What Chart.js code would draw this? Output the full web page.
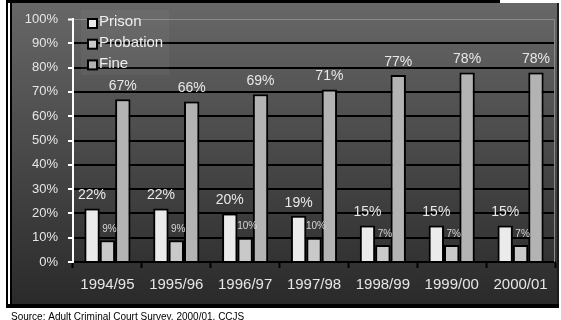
<!DOCTYPE html>
<html>
<head>
<meta charset="utf-8">
<script src="https://cdn.jsdelivr.net/npm/chart.js@4.4.0/dist/chart.umd.min.js"></script>
<style>
  html, body { margin: 0; padding: 0; background: #fff; }
  #wrap { position: relative; width: 561px; height: 320px; }
</style>
</head>
<body>
<div id="wrap"><canvas id="chart"></canvas></div>
<script>
const years = ['1994/95', '1995/96', '1996/97', '1997/98', '1998/99', '1999/00', '2000/01'];
const prison = [22, 22, 20, 19, 15, 15, 15];
const probation = [9, 9, 10, 10, 7, 7, 7];
const fine = [67, 66, 69, 71, 77, 78, 78];
const seriesNames = ['Prison', 'Probation', 'Fine'];
const sourceNote = 'Source: Adult Criminal Court Survey, 2000/01, CCJS';

const FONT = "'Liberation Sans', Arial, sans-serif";
Chart.defaults.font.family = FONT;

// slide frame + dark gradient panel behind the chart
const framePlugin = {
  id: 'frame',
  beforeDraw(chart) {
    const c = chart.ctx;
    c.save();
    c.fillStyle = '#fff';
    c.fillRect(0, 0, chart.width, chart.height);
    const g = c.createLinearGradient(0, 3, 0, 304);
    g.addColorStop(0, '#676767');
    g.addColorStop(1, '#2a2a2a');
    c.fillStyle = g;
    c.fillRect(10, 3, 549, 301);
    c.fillStyle = '#000';
    c.fillRect(6, 0, 2, 308);     // outer left line
    c.fillRect(6, 0, 494, 3);     // top line
    c.fillRect(10, 3, 2, 301);    // panel left border
    c.fillRect(6, 304, 553, 4);   // bottom line
    c.fillStyle = '#1c1c1c';
    c.fillRect(557, 3, 2, 301);
    c.fillStyle = '#000';
    c.font = '10px ' + FONT;
    c.textBaseline = 'alphabetic';
    c.fillText(sourceNote, 11, 320);
    c.restore();
  },
  beforeDatasetsDraw(chart) {
    const a = chart.chartArea;
    const c = chart.ctx;
    c.save();
    c.strokeStyle = '#8a8a8a';
    c.lineWidth = 1;
    c.beginPath();
    c.moveTo(a.right - 0.5, a.top);
    c.lineTo(a.right - 0.5, a.bottom);
    c.stroke();
    c.restore();
  }
};

// value labels above bars
const labelPlugin = {
  id: 'valueLabels',
  afterDatasetsDraw(chart) {
    const c = chart.ctx;
    c.save();
    c.textAlign = 'center';
    c.textBaseline = 'middle';
    chart.data.datasets.forEach((ds, i) => {
      const small = i === 1;
      c.font = (small ? '10px ' : '14px ') + FONT;
      c.fillStyle = small ? '#d6d6d6' : '#e8e8e8';
      chart.getDatasetMeta(i).data.forEach((bar, j) => {
        const dx = small ? 2 : 0;
        const dy = small ? 11 : 13;
        c.fillText(ds.data[j] + '%', bar.x + dx, bar.y - dy);
      });
    });
    c.restore();
  }
};

// legend box inside the plot, top-left
const legendPlugin = {
  id: 'boxLegend',
  afterDraw(chart) {
    const a = chart.chartArea;
    const c = chart.ctx;
    const x0 = a.left + 8, y0 = a.top - 9;
    c.save();
    c.fillStyle = 'rgba(255,255,255,0.04)';
    c.fillRect(x0, y0, 88, 65);
    c.font = '15px ' + FONT;
    c.textBaseline = 'middle';
    chart.data.datasets.forEach((ds, i) => {
      const cy = y0 + 13 + i * 20.7;
      c.fillStyle = ds.backgroundColor;
      c.fillRect(x0 + 7, cy - 4, 9, 9);
      c.strokeStyle = '#000';
      c.lineWidth = 2;
      c.strokeRect(x0 + 7, cy - 4, 9, 9);
      c.fillStyle = '#eeeeee';
      c.fillText(ds.label, x0 + 18, cy - 1);
    });
    c.restore();
  }
};

const ctx = document.getElementById('chart').getContext('2d');
new Chart(ctx, {
  type: 'bar',
  data: {
    labels: years,
    datasets: [
      { label: seriesNames[0], data: prison, backgroundColor: '#ebebeb' },
      { label: seriesNames[1], data: probation, backgroundColor: '#c9c9c9' },
      { label: seriesNames[2], data: fine, backgroundColor: '#b3b3b3' }
    ].map(d => Object.assign(d, {
      borderColor: '#000',
      borderWidth: 2,
      barPercentage: 1,
      categoryPercentage: 0.67
    }))
  },
  options: {
    responsive: true,
    maintainAspectRatio: false,
    animation: false,
    layout: { padding: { top: 19, right: 6, left: 0, bottom: 0 } },
    plugins: { legend: { display: false }, tooltip: { enabled: false } },
    scales: {
      x: {
        afterFit: s => { s.height = 58; },
        grid: { display: true, drawOnChartArea: false, offset: true, tickLength: 6, tickColor: '#000', tickWidth: 2 },
        border: { color: '#000', width: 2 },
        ticks: { color: '#e6e6e6', font: { size: 15 }, padding: 8 }
      },
      y: {
        min: 0,
        max: 100,
        afterFit: s => { s.width = 73; },
        grid: {
          color: t => t.tick && t.tick.value === 100 ? '#8a8a8a' : '#000',
          lineWidth: t => t.tick && t.tick.value === 100 ? 1 : 2,
          tickColor: '#fff',
          tickWidth: 2,
          tickLength: 5
        },
        border: { color: '#fff', width: 2 },
        ticks: {
          stepSize: 10,
          color: '#e6e6e6',
          font: { size: 13 },
          padding: 10,
          callback: v => v + '%'
        }
      }
    }
  },
  plugins: [framePlugin, labelPlugin, legendPlugin]
});
</script>
</body>
</html>
